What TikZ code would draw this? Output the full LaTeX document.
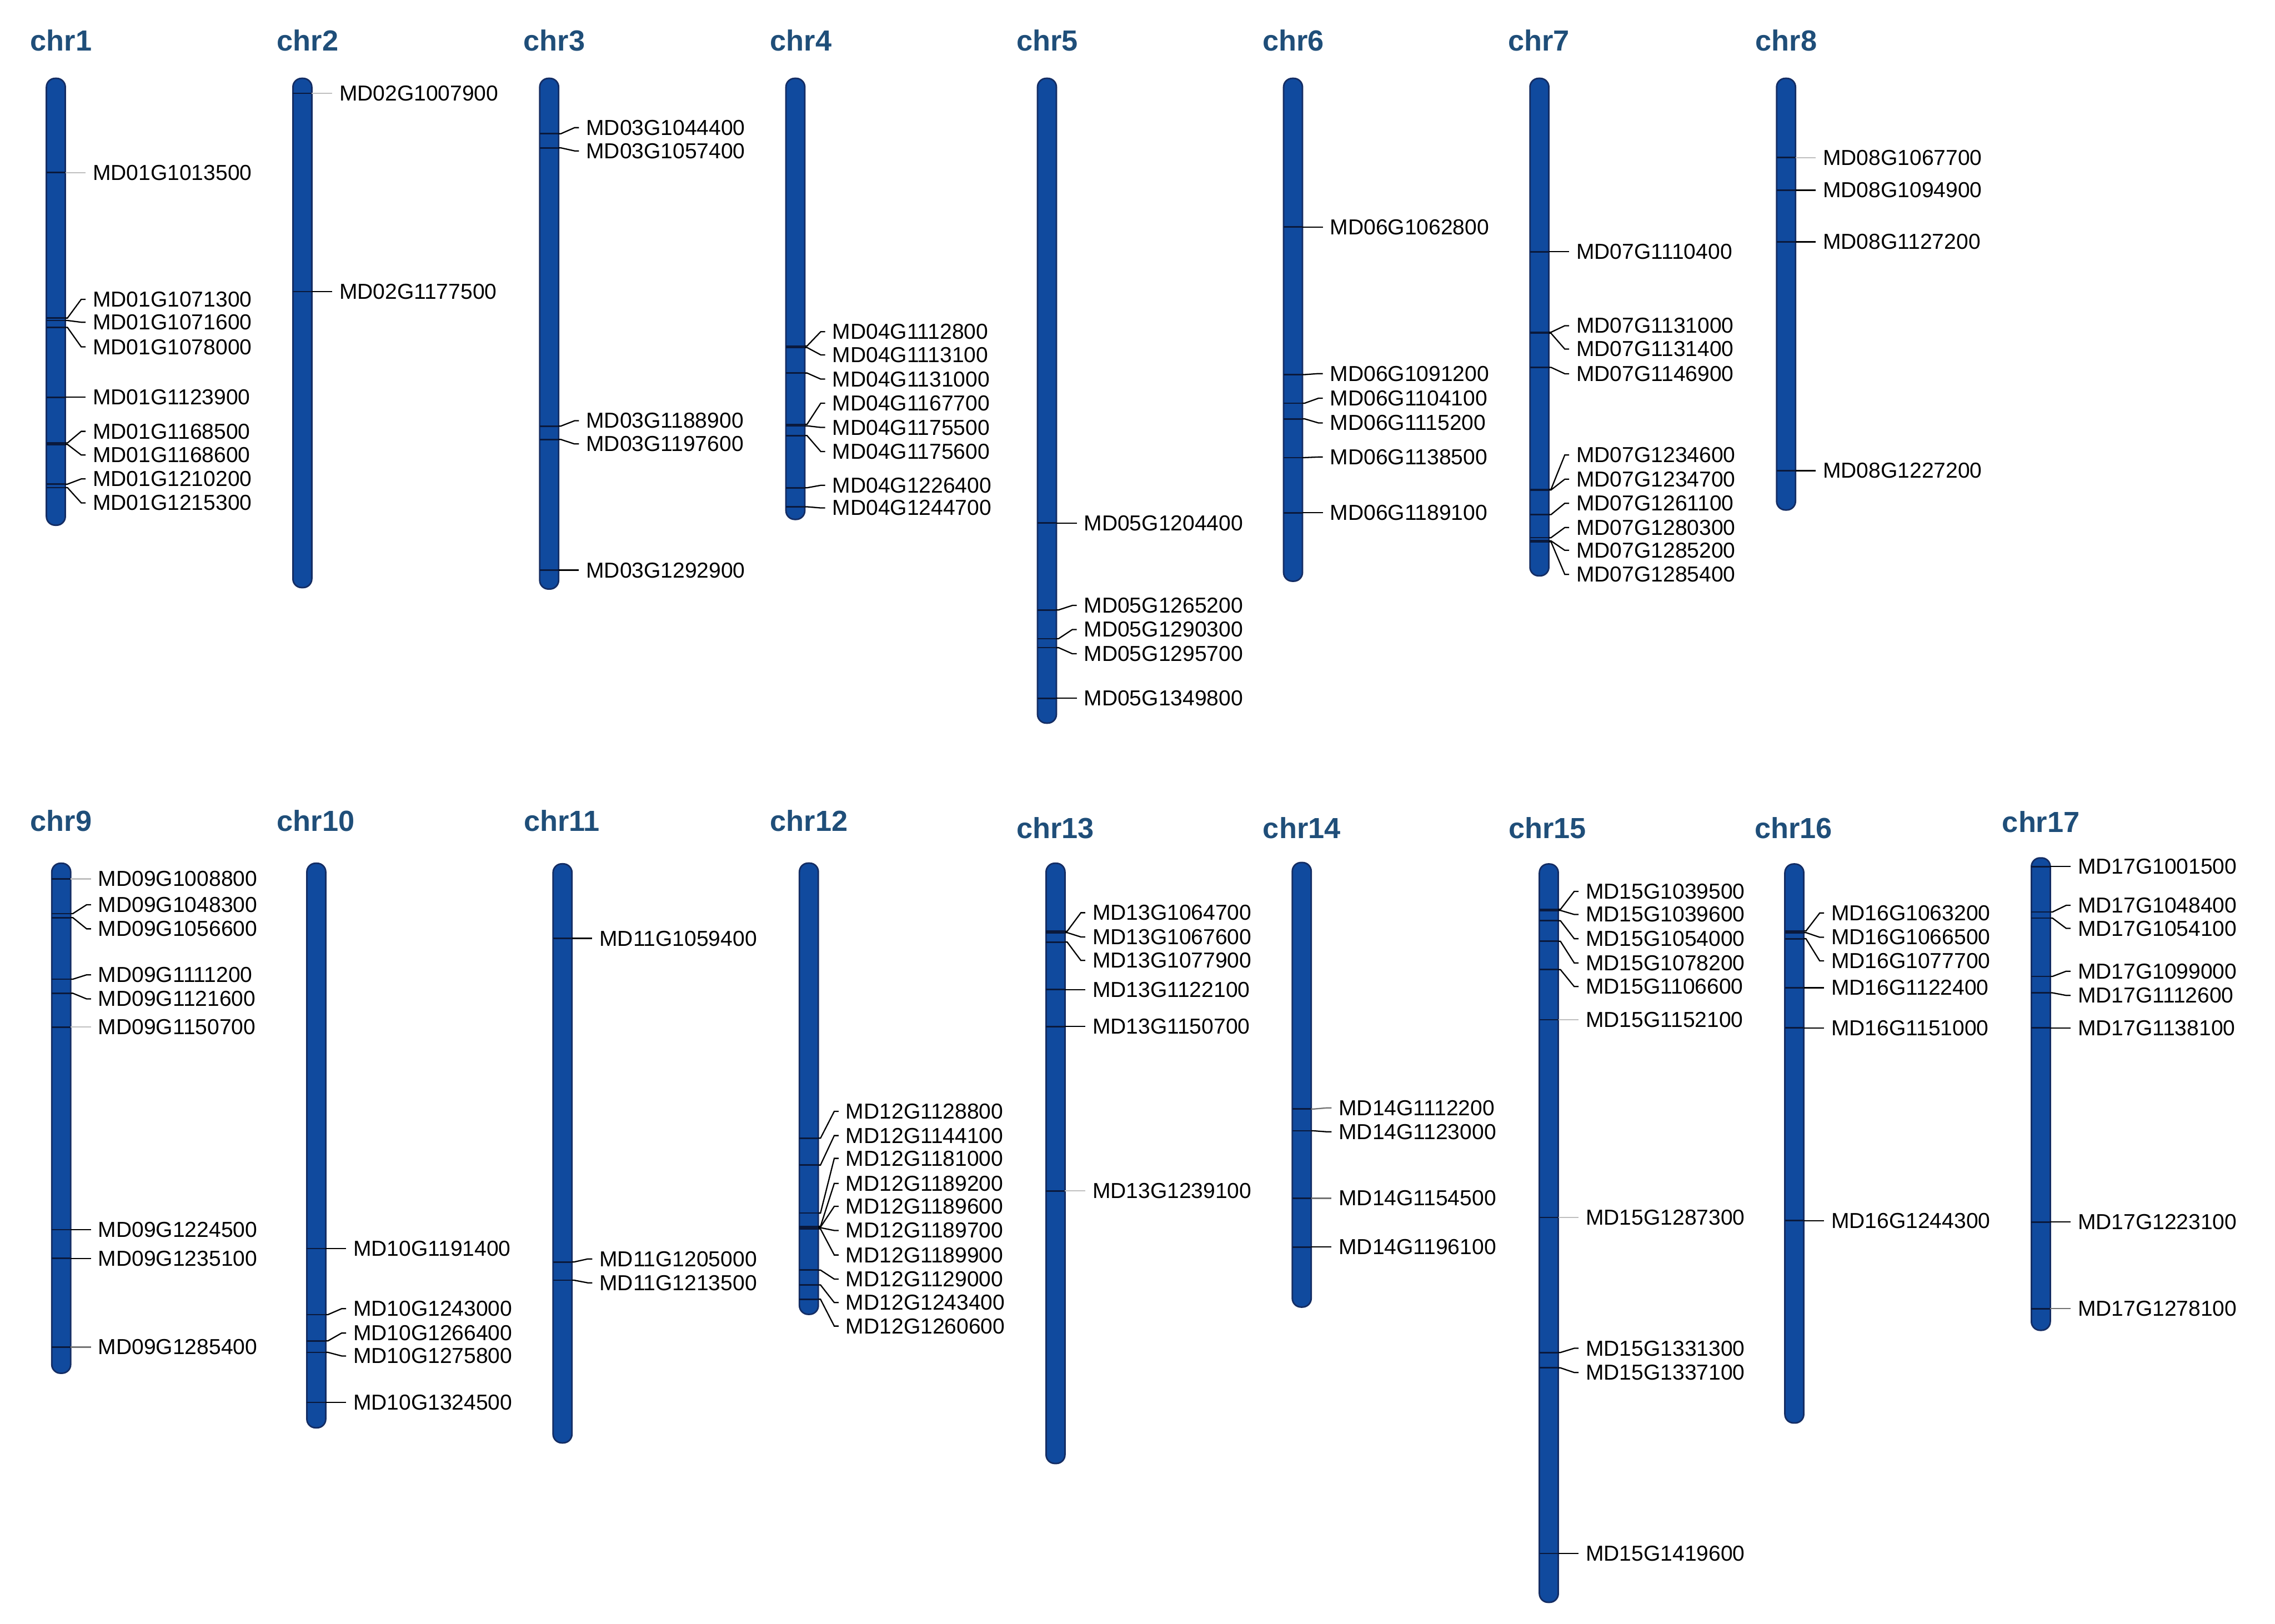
\documentclass[tikz,border=0pt]{standalone}
\usepackage{fontspec}
\setmainfont{Liberation Sans}
\usepackage{tikz}
\usetikzlibrary{calc}

\definecolor{chrfill}{RGB}{16,74,158}
\definecolor{chredge}{RGB}{20,45,100}
\definecolor{titleblue}{RGB}{31,78,121}
\definecolor{bandcol}{RGB}{10,25,60}
\colorlet{lnk}{black}
\colorlet{lnm}{black!55}
\colorlet{lnl}{black!25}

% one gene: band on the bar, label, and the link between them
\newcommand{\genemark}{%
  \coordinate (t\g) at (\cx+6.5,\t);
  \draw[bandline] (\cx-6.5,\t) -- (t\g);
  \node[genelbl] (\g) at (\cx+20.5,\l) {\g};
  \draw[link,draw=ln\c] (t\g) -- ++(1.5,0) -- ($(\g.west)+(-3,0)$) -- (\g.west);
}

\begin{document}
\begin{tikzpicture}[x=0.1mm,y=-0.1mm,
  chrbar/.style={fill=chrfill,draw=chredge,line width=0.3pt,rounded corners=0.6mm},
  bandline/.style={draw=bandcol,line width=0.3pt},
  link/.style={line width=0.25pt},
  genelbl/.style={anchor=west,inner xsep=0.5mm,inner ysep=0pt,outer sep=0pt,
    font=\fontsize{4.25}{5}\selectfont},
  chrtitle/.style={anchor=base west,inner sep=0pt,text=titleblue,
    font=\bfseries\fontsize{5.7}{7}\selectfont}]
  \fill[white] (0,0) rectangle (1568,1119);
  \useasboundingbox (0,0) rectangle (1568,1119);

  % ---- top row ----
  \def\cx{38.5}
  \node[chrtitle] (chr1) at (20.3,35.2) {chr1};
  \draw[chrbar] (\cx-6.5,54) rectangle (\cx+6.5,362);
  \foreach \t/\l/\g/\c in {119/119/MD01G1013500/l, 219.2/206.3/MD01G1071300/k,
    220.9/222.1/MD01G1071600/k, 225.7/239.1/MD01G1078000/k, 273.8/273.8/MD01G1123900/k,
    305.3/297.3/MD01G1168500/k, 306.3/313.6/MD01G1168600/k, 333.7/330.1/MD01G1210200/k,
    336.1/346.6/MD01G1215300/k} {\genemark}

  \def\cx{208.4}
  \node[chrtitle] (chr2) at (190.2,35.2) {chr2};
  \draw[chrbar] (\cx-6.5,54) rectangle (\cx+6.5,405);
  \foreach \t/\l/\g/\c in {64.3/64.3/MD02G1007900/l, 201/201/MD02G1177500/k} {\genemark}

  \def\cx{378.5}
  \node[chrtitle] (chr3) at (360.2,35.2) {chr3};
  \draw[chrbar] (\cx-6.5,54) rectangle (\cx+6.5,406);
  \foreach \t/\l/\g/\c in {92.2/88/MD03G1044400/k, 101.9/104/MD03G1057400/k,
    293.7/290/MD03G1188900/k, 302.9/306/MD03G1197600/k, 393/393/MD03G1292900/k} {\genemark}

  \def\cx{548.2}
  \node[chrtitle] (chr4) at (530.1,35.2) {chr4};
  \draw[chrbar] (\cx-6.5,54) rectangle (\cx+6.5,358);
  \foreach \t/\l/\g/\c in {238.5/228.6/MD04G1112800/k, 239.5/244.6/MD04G1113100/k,
    257.1/261.3/MD04G1131000/k, 292.5/277.9/MD04G1167700/k, 293.5/294.6/MD04G1175500/k,
    300.2/311.2/MD04G1175600/k, 336.2/334.5/MD04G1226400/k, 349.3/350.1/MD04G1244700/k} {\genemark}

  \def\cx{721.6}
  \node[chrtitle] (chr5) at (700,35.2) {chr5};
  \draw[chrbar] (\cx-6.5,54) rectangle (\cx+6.5,498.4);
  \foreach \t/\l/\g/\c in {360.5/360.5/MD05G1204400/k, 420.4/417.3/MD05G1265200/k,
    440.2/433.9/MD05G1290300/k, 446.4/450.6/MD05G1295700/k, 481.3/481.3/MD05G1349800/k} {\genemark}

  \def\cx{891.2}
  \node[chrtitle] (chr6) at (869.6,35.2) {chr6};
  \draw[chrbar] (\cx-6.5,54) rectangle (\cx+6.5,400.6);
  \foreach \t/\l/\g/\c in {156.5/156.5/MD06G1062800/k, 258.2/257.5/MD06G1091200/k,
    277.9/274.5/MD06G1104100/k, 288.7/291.5/MD06G1115200/k, 315.4/315/MD06G1138500/k,
    353.4/353.4/MD06G1189100/k} {\genemark}

  \def\cx{1061}
  \node[chrtitle] (chr7) at (1038.8,35.2) {chr7};
  \draw[chrbar] (\cx-6.5,54) rectangle (\cx+6.5,396.9);
  \foreach \t/\l/\g/\c in {173.5/173.5/MD07G1110400/k, 229.0/224.5/MD07G1131000/k,
    229.7/240.6/MD07G1131400/k, 253.2/257.6/MD07G1146900/k, 337.3/313.6/MD07G1234600/k,
    337.7/330.3/MD07G1234700/k, 354.7/346.9/MD07G1261100/k, 370.6/363.6/MD07G1280300/k,
    372.8/379.3/MD07G1285200/k, 373.4/395.9/MD07G1285400/k} {\genemark}

  \def\cx{1231}
  \node[chrtitle] (chr8) at (1209.3,35.2) {chr8};
  \draw[chrbar] (\cx-6.5,54) rectangle (\cx+6.5,351.5);
  \foreach \t/\l/\g/\c in {108.6/108.6/MD08G1067700/l, 131.1/131.1/MD08G1094900/k,
    166.7/166.7/MD08G1127200/k, 324.4/324.4/MD08G1227200/k} {\genemark}

  % ---- bottom row ----
  \def\cx{42.2}
  \node[chrtitle] (chr9) at (20.3,572.8) {chr9};
  \draw[chrbar] (\cx-6.5,595) rectangle (\cx+6.5,946.5);
  \foreach \t/\l/\g/\c in {605.8/605.8/MD09G1008800/l, 629.7/623.6/MD09G1048300/k,
    632.5/640.2/MD09G1056600/k, 674.9/671.9/MD09G1111200/k, 684.6/688.5/MD09G1121600/k,
    707.9/707.9/MD09G1150700/l, 847.5/847.5/MD09G1224500/k, 867.4/867.4/MD09G1235100/k,
    928.5/928.5/MD09G1285400/m} {\genemark}

  \def\cx{218}
  \node[chrtitle] (chr10) at (190.2,572.8) {chr10};
  \draw[chrbar] (\cx-6.5,595) rectangle (\cx+6.5,984.1);
  \foreach \t/\l/\g/\c in {860.6/860.6/MD10G1191400/k, 906.1/902.0/MD10G1243000/k,
    924.2/918.8/MD10G1266400/k, 932.1/934.6/MD10G1275800/k, 966.6/966.6/MD10G1324500/k} {\genemark}

  \def\cx{387.7}
  \node[chrtitle] (chr11) at (360.3,572.8) {chr11};
  \draw[chrbar] (\cx-6.5,595.4) rectangle (\cx+6.5,994.5);
  \foreach \t/\l/\g/\c in {646.8/646.8/MD11G1059400/k, 869.8/867.7/MD11G1205000/k,
    882.4/884.2/MD11G1213500/k} {\genemark}

  \def\cx{557.5}
  \node[chrtitle] (chr12) at (530.1,572.8) {chr12};
  \draw[chrbar] (\cx-6.5,594.9) rectangle (\cx+6.5,905.9);
  \foreach \t/\l/\g/\c in {784.5/766.0/MD12G1128800/k, 803.0/782.7/MD12G1144100/k,
    836.1/798.4/MD12G1181000/k, 845.3/815.7/MD12G1189200/k, 845.8/831.5/MD12G1189600/k,
    846.2/848.1/MD12G1189700/k, 847.0/865.0/MD12G1189900/k, 875.4/881.6/MD12G1129000/k,
    885.6/897.8/MD12G1243400/k, 895.5/914.0/MD12G1260600/k} {\genemark}

  \def\cx{727.5}
  \node[chrtitle] (chr13) at (700,578) {chr13};
  \draw[chrbar] (\cx-6.5,595) rectangle (\cx+6.5,1008.7);
  \foreach \t/\l/\g/\c in {641.9/629.1/MD13G1064700/k, 642.8/645.8/MD13G1067600/k,
    649.3/662.0/MD13G1077900/k, 682.1/682.1/MD13G1122100/k, 707.5/707.5/MD13G1150700/k,
    820.8/820.8/MD13G1239100/l} {\genemark}

  \def\cx{897.2}
  \node[chrtitle] (chr14) at (869.8,578) {chr14};
  \draw[chrbar] (\cx-6.5,594.5) rectangle (\cx+6.5,900.9);
  \foreach \t/\l/\g/\c in {764.4/763.6/MD14G1112200/m, 779.4/780.1/MD14G1123000/k,
    825.9/825.9/MD14G1154500/m, 859.5/859.5/MD14G1196100/k} {\genemark}

  \def\cx{1067.5}
  \node[chrtitle] (chr15) at (1039.1,578) {chr15};
  \draw[chrbar] (\cx-6.5,595.5) rectangle (\cx+6.5,1104.4);
  \foreach \t/\l/\g/\c in {626.8/614.4/MD15G1039500/k, 627.5/630.3/MD15G1039600/k,
    634.6/647.0/MD15G1054000/k, 648.8/663.7/MD15G1078200/k, 668.3/680.0/MD15G1106600/k,
    702.8/702.8/MD15G1152100/l, 839.1/839.1/MD15G1287300/l, 932.2/929.3/MD15G1331300/k,
    942.8/946.0/MD15G1337100/k, 1070.7/1070.7/MD15G1419600/k} {\genemark}

  \def\cx{1236.7}
  \node[chrtitle] (chr16) at (1208.7,578) {chr16};
  \draw[chrbar] (\cx-6.5,595.5) rectangle (\cx+6.5,980.8);
  \foreach \t/\l/\g/\c in {641.7/629.3/MD16G1063200/k, 642.8/646.0/MD16G1066500/k,
    647.0/662.3/MD16G1077700/k, 680.8/680.8/MD16G1122400/k, 708.5/708.5/MD16G1151000/k,
    841.3/841.3/MD16G1244300/k} {\genemark}

  \def\cx{1406.6}
  \node[chrtitle] (chr17) at (1379.3,573.5) {chr17};
  \draw[chrbar] (\cx-6.5,591.3) rectangle (\cx+6.5,916.9);
  \foreach \t/\l/\g/\c in {597.3/597.3/MD17G1001500/k, 628.6/624.0/MD17G1048400/k,
    632.8/639.9/MD17G1054100/k, 673.0/669.4/MD17G1099000/k, 684.3/686.1/MD17G1112600/k,
    708.5/708.5/MD17G1138100/k, 842.3/842.3/MD17G1223100/k, 902.0/902.0/MD17G1278100/m} {\genemark}
\end{tikzpicture}
\end{document}
